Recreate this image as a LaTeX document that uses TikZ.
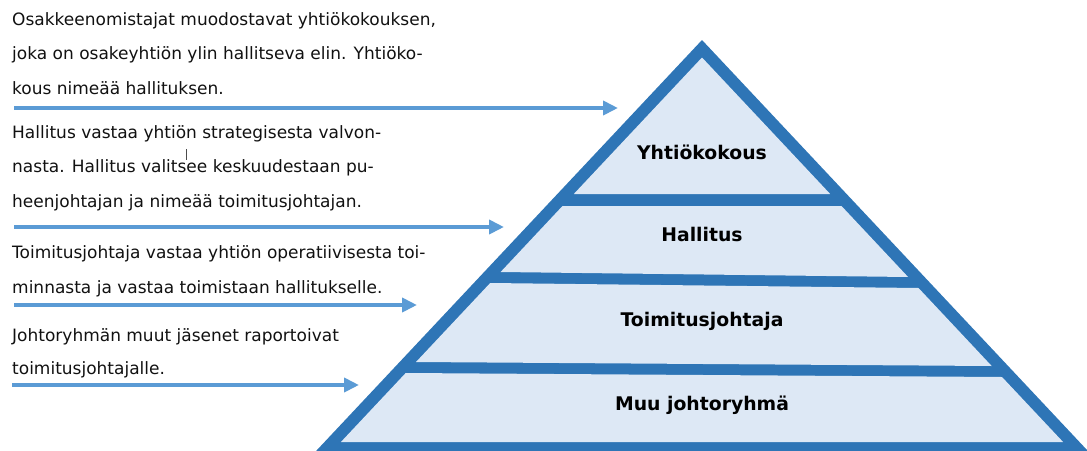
\documentclass[tikz,border=0pt]{standalone}
\usepackage{fontspec}
\setmainfont{DejaVu Sans}
\usetikzlibrary{arrows.meta}
\definecolor{pyrdark}{HTML}{2E75B6}
\definecolor{pyrlight}{HTML}{DDE8F5}
\definecolor{arrowblue}{HTML}{5B9BD5}
\definecolor{txt}{HTML}{111111}
\tikzset{
  desc/.style={anchor=base west, align=left, inner sep=0pt, text=txt,
    font=\fontsize{17}{34.5}\selectfont},
  level/.style={font=\bfseries\fontsize{18.8}{20}\selectfont, text=black, inner sep=0pt},
  pointer/.style={arrowblue, line width=4.5pt, -{Triangle[length=15pt,width=14pt]}},
  band/.style={fill=pyrlight, draw=none}
}
\begin{document}
\begin{tikzpicture}[x=1pt,y=-1pt]
\useasboundingbox (0,0) rectangle (1087,450);
\begin{scope}
\clip (0,0) rectangle (1087,450);
% outer pyramid
\fill[pyrdark] (702,40) -- (1091.7,455) -- (312.3,455) -- cycle;
% inner light regions
\fill[band] (702,57.5) -- (830.2,194) -- (573.8,194) -- cycle;
\fill[band] (562.5,206) -- (841.5,206) -- (908.1,277) -- (500.6,272) -- cycle;
\fill[band] (490.2,283) -- (918.5,288) -- (991.7,366) -- (416.0,362) -- cycle;
\fill[band] (405.7,373) -- (1002.0,377) -- (1063.1,442) -- (340.9,442) -- cycle;
\end{scope}
% labels
\node[level] (l1) at (702,152) {Yhtiökokous};
\node[level] (l2) at (702,234) {Hallitus};
\node[level] (l3) at (702,321) {Toimitusjohtaja};
\node[level] (l4) at (702,405) {Muu johtoryhmä};
% descriptions (anchored at the baseline of their last line)
\node[desc] (d1) at (12,94) {Osakkeenomistajat muodostavat yhtiökokouksen,\\joka on osakeyhtiön ylin hallitseva elin. Yhtiöko-\\kous nimeää hallituksen.};
\node[desc] (d2) at (12,207) {Hallitus vastaa yhtiön strategisesta valvon-\\nasta. Hallitus valitsee keskuudestaan pu-\\heenjohtajan ja nimeää toimitusjohtajan.};
\node[desc] (d3) at (12,293) {Toimitusjohtaja vastaa yhtiön operatiivisesta toi-\\minnasta ja vastaa toimistaan hallitukselle.};
\node[desc, font=\fontsize{17}{32.5}\selectfont] (d4) at (12,374) {Johtoryhmän muut jäsenet raportoivat\\toimitusjohtajalle.};
% cursor artifact
\draw[black!70, line width=0.8pt] (186,149) -- (186,160);
% arrows
\coordinate (a1s) at (14,108); \coordinate (a1e) at (618,108);
\coordinate (a2s) at (14,227); \coordinate (a2e) at (504,227);
\coordinate (a3s) at (14,305); \coordinate (a3e) at (417,305);
\coordinate (a4s) at (12,385); \coordinate (a4e) at (359,385);
\draw[pointer] (a1s) -- (a1e);
\draw[pointer] (a2s) -- (a2e);
\draw[pointer] (a3s) -- (a3e);
\draw[pointer] (a4s) -- (a4e);
\end{tikzpicture}
\end{document}
